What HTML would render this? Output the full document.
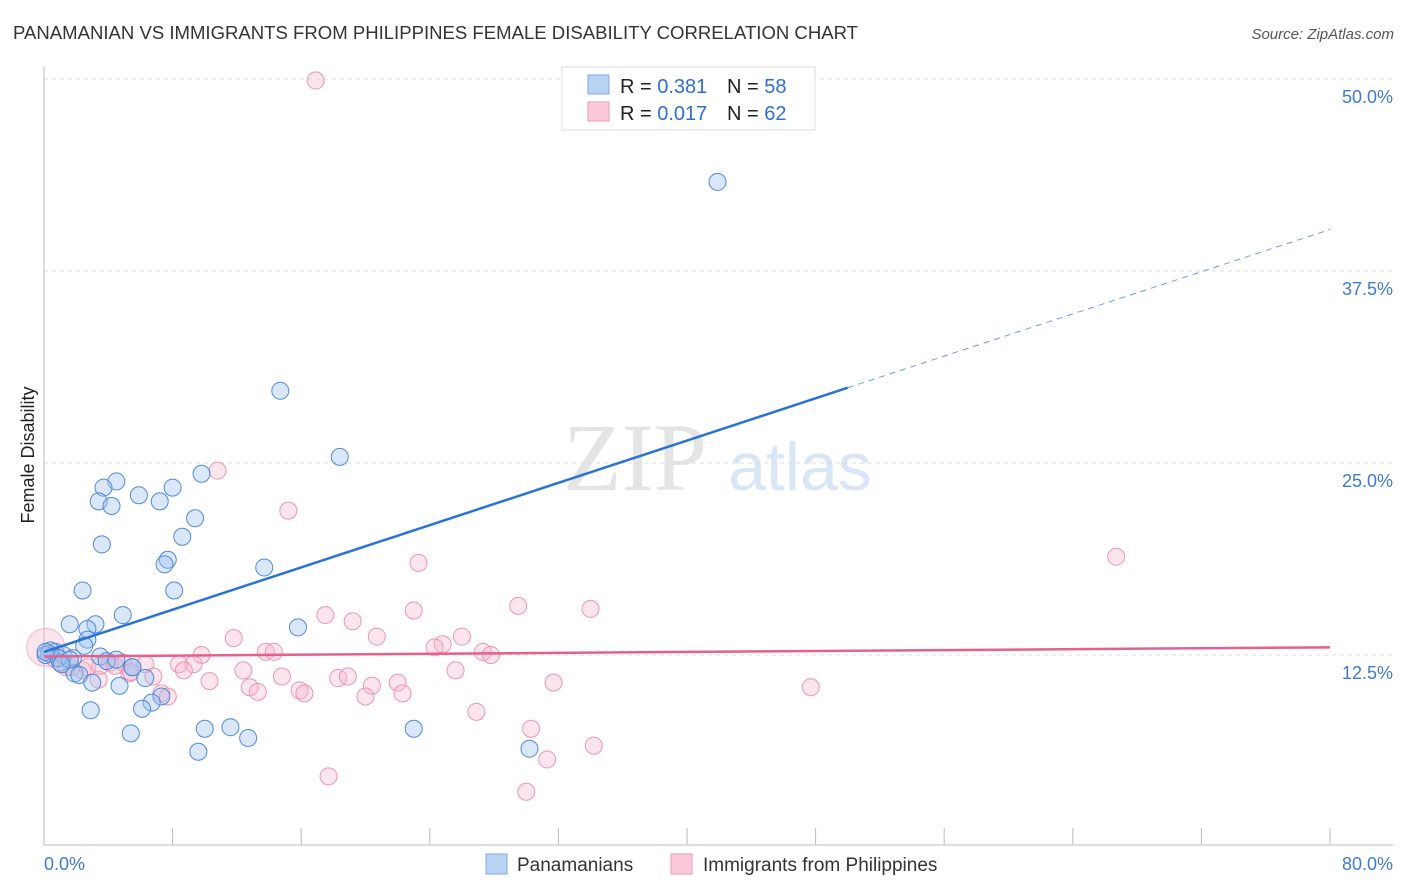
<!DOCTYPE html>
<html><head><meta charset="utf-8"><style>
body{margin:0;background:#fff;font-family:"Liberation Sans",sans-serif;}
svg{display:block}
</style></head><body>
<svg id="chart" width="1406" height="892" xmlns="http://www.w3.org/2000/svg">
<text x="13" y="39" font-size="18" fill="#333" textLength="845" lengthAdjust="spacingAndGlyphs">PANAMANIAN VS IMMIGRANTS FROM PHILIPPINES FEMALE DISABILITY CORRELATION CHART</text>
<text x="1394" y="39" font-size="15" fill="#555" font-style="italic" text-anchor="end">Source: ZipAtlas.com</text>
<text x="635" y="490" font-size="96" fill="#e4e4e4" font-family="Liberation Serif,serif" text-anchor="middle">ZIP</text>
<text x="800" y="490" font-size="68" fill="#d8e6f6" text-anchor="middle">atlas</text>
<g id="grid"></g>
<g id="axes"></g>
<g id="pts"></g>
<g id="lines"></g>
<text transform="translate(34,455) rotate(-90)" font-size="18" fill="#222" text-anchor="middle">Female Disability</text>
<g>
<rect x="562" y="67" width="253" height="63" fill="#fff" stroke="#ddd"/>
<rect x="588" y="75" width="21" height="19" fill="#b9d3f5" stroke="#7ea8e4"/>
<rect x="588" y="102" width="21" height="19" fill="#fbc9d7" stroke="#ee9ab4"/>
<text x="620" y="93" font-size="20" fill="#222">R = <tspan fill="#2f6fd0">0.381</tspan><tspan x="727">N = </tspan><tspan fill="#2f6fd0">58</tspan></text>
<text x="620" y="120" font-size="20" fill="#222">R = <tspan fill="#2f6fd0">0.017</tspan><tspan x="727">N = </tspan><tspan fill="#2f6fd0">62</tspan></text>
</g>
<g>
<rect x="486" y="854" width="21" height="20" fill="#b9d3f5" stroke="#7ea8e4"/>
<text x="517" y="871" font-size="19" fill="#333">Panamanians</text>
<rect x="671" y="854" width="21" height="20" fill="#fbc9d7" stroke="#ee9ab4"/>
<text x="703" y="871" font-size="19" fill="#333">Immigrants from Philippines</text>
</g>
</svg>
<script>
const blueX=[41.9,14.7,18.4,4.5,3.7,8.0,9.8,5.9,3.4,4.2,7.2,9.4,8.6,3.6,7.7,7.5,13.7,2.4,8.1,4.9,1.6,3.2,2.7,15.8,2.7,2.5,0.7,1.2,1.8,3.5,3.9,4.5,5.5,0.3,1.0,1.9,2.2,6.3,3.0,4.7,7.3,6.7,6.1,2.9,5.4,11.6,10.0,12.7,9.6,23.0,30.2,0.4,0.1,0.9,1.6,0.1,5.5,1.1];
const blueY=[43.3,29.7,25.4,23.8,23.4,23.4,24.3,22.9,22.5,22.2,22.5,21.4,20.2,19.7,18.7,18.4,18.2,16.7,16.7,15.1,14.5,14.5,14.2,14.3,13.5,13.1,12.7,12.5,12.3,12.4,12.1,12.2,11.7,12.6,12.0,11.3,11.2,11.0,10.7,10.5,9.8,9.4,9.0,8.9,7.4,7.8,7.7,7.1,6.2,7.7,6.4,12.8,12.5,12.3,12.2,12.7,11.7,11.9];
const pinkX=[16.9,10.8,15.2,66.7,23.3,29.5,34.0,23.0,17.5,19.2,11.8,20.7,26.0,24.8,24.3,27.3,27.8,13.8,14.3,9.8,8.4,9.3,6.3,4.9,4.1,2.4,1.4,12.4,14.8,18.3,18.9,8.7,6.8,5.3,3.4,10.3,22.0,20.4,25.6,31.7,12.8,13.3,15.9,16.2,20.0,22.3,7.3,7.7,47.7,26.9,30.3,34.2,31.3,17.7,30.0,0.1,0.7,2.7,5.4,1.7,3.5,4.4];
const pinkY=[49.9,24.5,21.9,18.9,18.5,15.7,15.5,15.4,15.1,14.7,13.6,13.7,13.7,13.2,13.0,12.7,12.5,12.7,12.7,12.5,11.9,11.9,11.9,12.0,12.0,11.5,11.7,11.5,11.1,11.0,11.1,11.5,11.1,11.3,10.9,10.8,10.7,10.5,11.5,10.7,10.4,10.1,10.2,10.0,9.8,10.0,10.0,9.8,10.4,8.8,7.7,6.6,5.7,4.6,3.6,13.0,12.2,11.7,11.4,11.7,11.8,11.8];
const yTicks=[12.5,25.0,37.5,50.0];
const xTickVals=[0,8,16,24,32,40,48,56,64,72,80];
const blueLine=[0,12.7,50,29.9,80,40.2];
const pinkLine=[0,12.4,80,13.0];
const NS="http://www.w3.org/2000/svg";
const sx=v=>44+v/80*1286, sy=v=>847-v/50*768;
function mk(tag,attrs,parent){const e=document.createElementNS(NS,tag);for(const k in attrs)e.setAttribute(k,attrs[k]);parent.appendChild(e);return e;}
const grid=document.getElementById('grid'),axes=document.getElementById('axes'),pts=document.getElementById('pts'),lines=document.getElementById('lines');
yTicks.forEach(t=>{
 const l=mk('line',{x1:44,x2:1393,y1:sy(t),y2:sy(t),stroke:'#ddd','stroke-dasharray':'4,4'},grid);
 
 
 const tx=mk('text',{x:1393,y:sy(t)+24,'font-size':18,fill:'#3f79d0','text-anchor':'end'},grid);
 tx.textContent=t.toFixed(1)+'%';
 
 
});
const la=mk('line',{x1:44,x2:44,y1:67,y2:845,stroke:'#bbb'},axes);


const ba=mk('line',{x1:44,x2:1393,y1:845,y2:845,stroke:'#bbb'},axes);


xTickVals.forEach(t=>{
 const l=mk('line',{x1:sx(t),x2:sx(t),y1:828,y2:845,stroke:'#bbb'},axes);
 
 
});
[[0,'0.0%','start',44],[80,'80.0%','end',1393]].forEach(a=>{
 const tx=mk('text',{x:a[3],y:870,'font-size':18,fill:'#3f79d0','text-anchor':a[2]},axes);
 tx.textContent=a[1];
 
 
});
pinkX.forEach((x,i)=>{
 const c=mk('circle',{cx:sx(x),cy:sy(pinkY[i]),r:i==55?19:8.5,fill:'rgba(248,180,202,0.35)',stroke:i==55?'#f3b8ca':'#ec95b1','stroke-width':1},pts);
 
 
});
blueX.forEach((x,i)=>{
 const c=mk('circle',{cx:sx(x),cy:sy(blueY[i]),r:8.5,fill:'rgba(160,195,240,0.4)',stroke:'#4f8ad8','stroke-width':1},pts);
 
 
});
const b1=mk('line',{x1:sx(blueLine[0]),y1:sy(blueLine[1]),x2:sx(blueLine[2]),y2:sy(blueLine[3]),stroke:'#2a72d6','stroke-width':2.5},lines);


const b2=mk('line',{x1:sx(blueLine[2]),y1:sy(blueLine[3]),x2:sx(blueLine[4]),y2:sy(blueLine[5]),stroke:'#6c9be0','stroke-width':1,'stroke-dasharray':'6,5'},lines);


const p1=mk('line',{x1:sx(pinkLine[0]),y1:sy(pinkLine[1]),x2:sx(pinkLine[2]),y2:sy(pinkLine[3]),stroke:'#e5608a','stroke-width':2.5},lines);


</script>
</body></html>
